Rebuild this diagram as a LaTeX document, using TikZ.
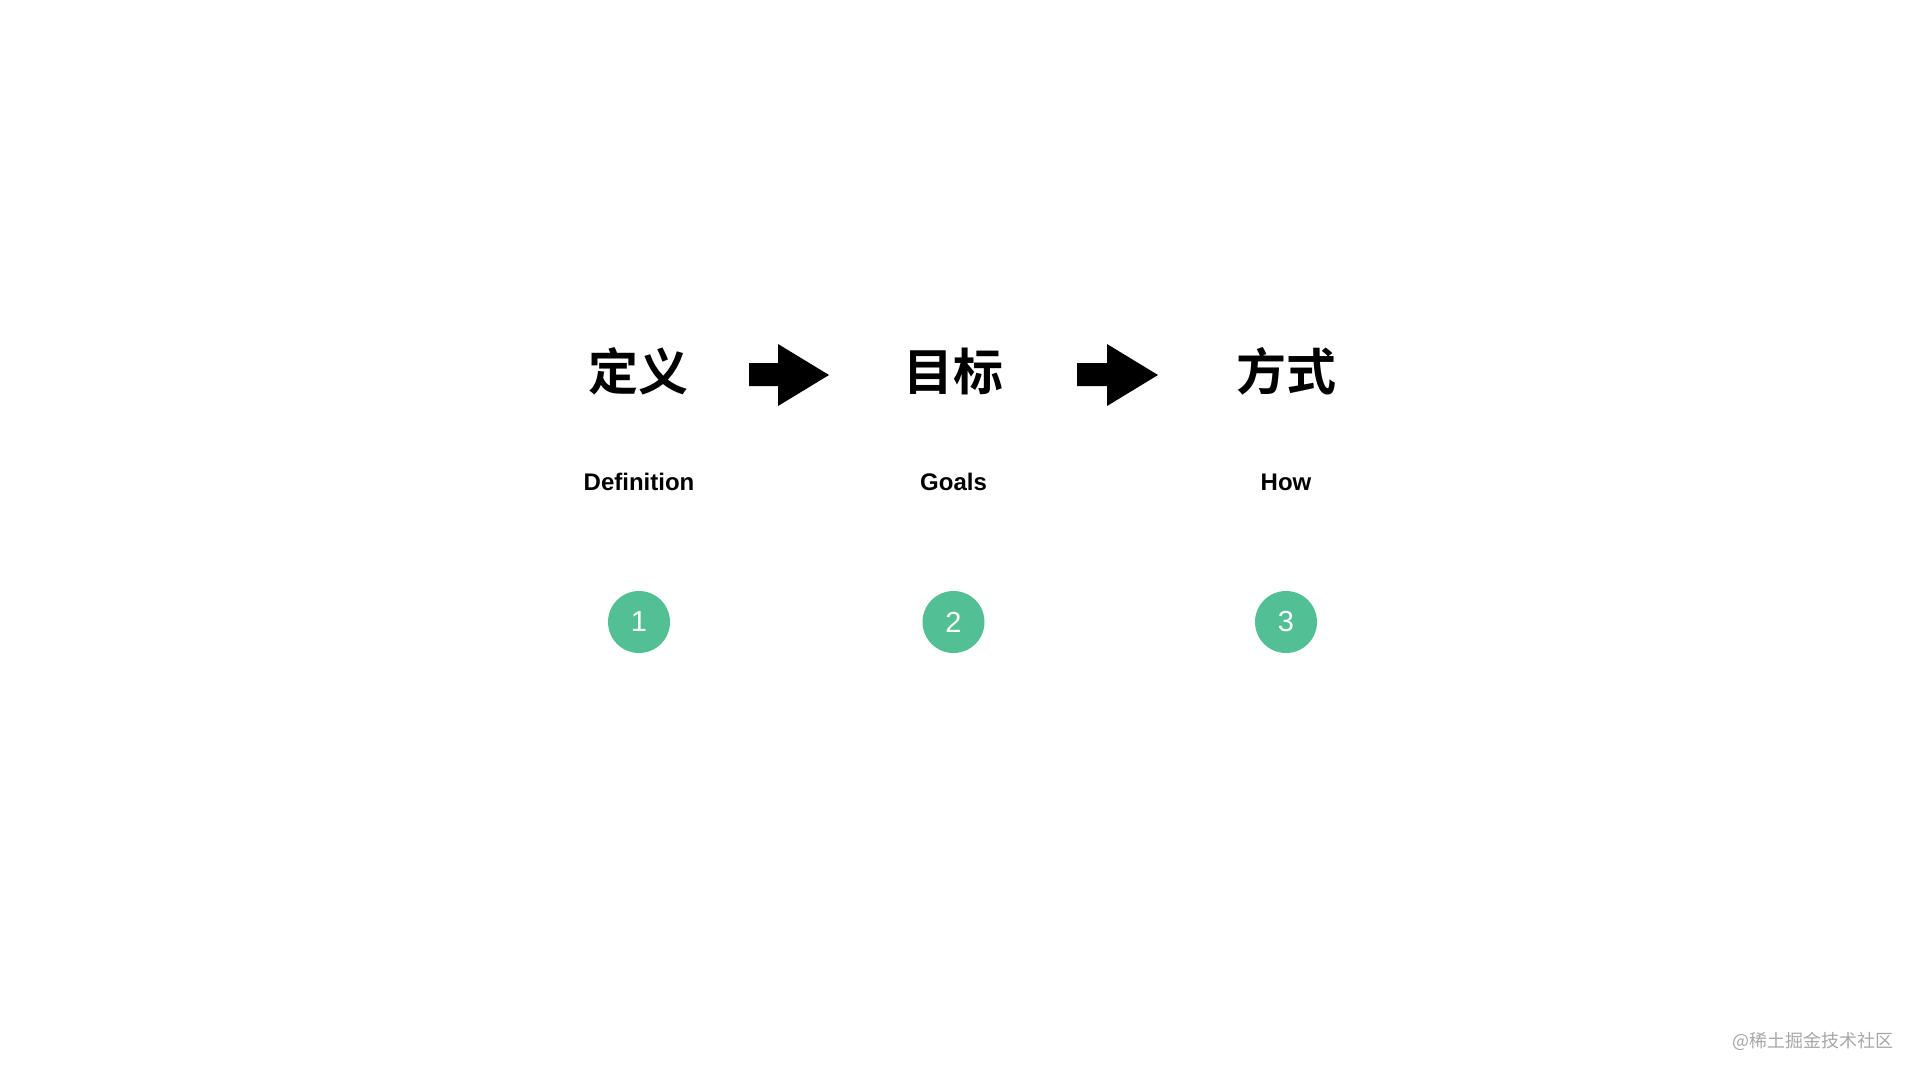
\documentclass[tikz,border=0pt]{standalone}
\usepackage{fontspec}
\setmainfont{Liberation Sans}
\newfontfamily\cjk{Noto Sans CJK SC}
\newfontfamily\cjkb{Noto Sans CJK SC Bold}
\definecolor{stepgreen}{HTML}{52BF94}
\definecolor{wmgray}{HTML}{A8A8A8}
\begin{document}
\begin{tikzpicture}[x=1pt,y=-1pt,
  heading/.style={anchor=base,inner sep=0pt,font=\cjkb\fontsize{50}{58}\selectfont},
  sublabel/.style={anchor=base,inner sep=0pt,font=\bfseries\fontsize{24}{28}\selectfont},
  numdot/.style={circle,fill=stepgreen,draw=none,minimum size=62pt,inner sep=0pt,text=white,font=\fontsize{29}{32}\selectfont},
  blockarrow/.style={fill=black,draw=none}]
\useasboundingbox[fill=white] (0,0) rectangle (1920,1080);
% headings
\node[heading] (h1) at (638.5,390.5) {定义};
\node[heading] (h2) at (953.5,390.5) {目标};
\node[heading] (h3) at (1286,390.5) {方式};
% sub labels
\node[sublabel] (s1) at (639,490) {Definition};
\node[sublabel] (s2) at (953.5,490) {Goals};
\node[sublabel] (s3) at (1286,490) {How};
% numbered dots
\node[numdot] (n1) at (639,622) {1};
\node[numdot] (n2) at (953.5,622) {2};
\node[numdot] (n3) at (1286,622) {3};
% block arrows
\fill[blockarrow] (749,363) -- (778,363) -- (778,344) -- (829,375) -- (778,406) -- (778,386) -- (749,386) -- cycle;
\fill[blockarrow] (1077,363) -- (1107,363) -- (1107,344) -- (1158,375) -- (1107,406) -- (1107,386) -- (1077,386) -- cycle;
% watermark
\node[anchor=base west,inner sep=0pt,text=wmgray,font=\cjk\fontsize{18}{22}\selectfont] (wm) at (1732,1047) {@稀土掘金技术社区};
\end{tikzpicture}
\end{document}
